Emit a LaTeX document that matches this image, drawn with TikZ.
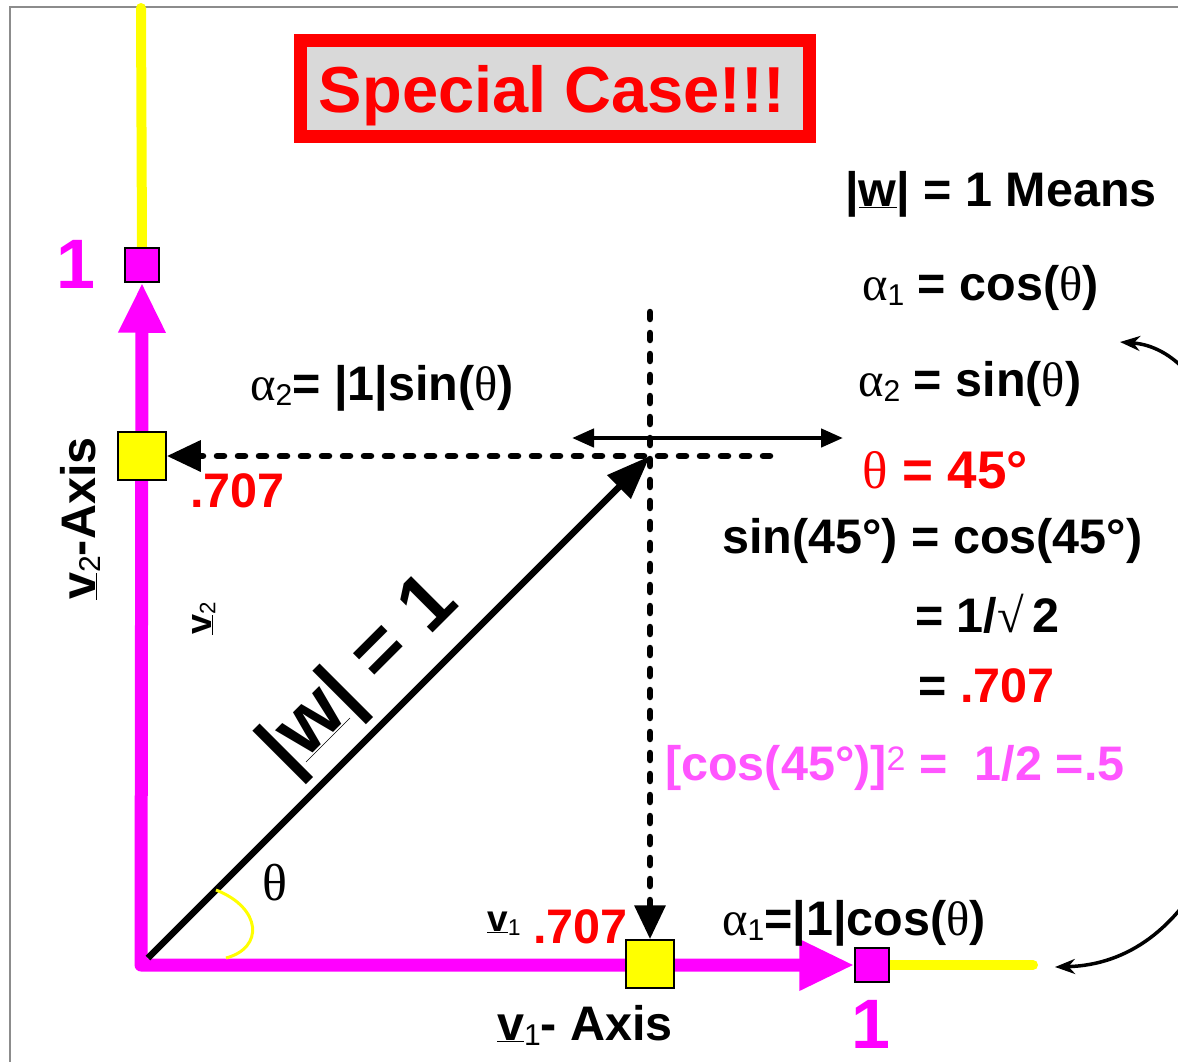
\documentclass[tikz,border=0pt]{standalone}
\usepackage{fontspec}
\setmainfont{Liberation Sans}
\newfontfamily\grk{Liberation Serif}
\usetikzlibrary{arrows.meta}
\definecolor{mag}{HTML}{FF00FF}
\definecolor{pinkt}{HTML}{FF55FF}
\definecolor{ylw}{HTML}{FFFF00}
\definecolor{boxgray}{HTML}{D9D9D9}
\definecolor{framegray}{HTML}{8C8C8C}
\newcommand{\fs}[1]{\fontsize{#1}{#1}\selectfont}
\newcommand{\sub}[1]{\raisebox{-0.12em}{\mdseries\fontsize{0.62em}{0.62em}\selectfont #1}}
\newcommand{\gal}[1]{{\grk\mdseries α}\sub{#1}}
\newcommand{\gth}{{\grk\mdseries θ}}
\newcommand{\ul}[1]{\underline{#1}}
\begin{document}
\begin{tikzpicture}[x=1pt,y=-1pt,
  t/.style={inner sep=0pt, anchor=base west, font=\bfseries\fs{48.5}},
  sqm/.style={draw=black, line width=1.5pt, fill=mag, minimum size=34pt, inner sep=0pt},
  sqy/.style={draw=black, line width=1.5pt, fill=ylw, minimum size=48pt, inner sep=0pt},
  dotline/.style={line width=6.5pt, line cap=round, dash pattern=on 7pt off 14pt},
  bigtip/.style={-{Triangle[length=34pt,width=30pt]}}
  ]
\useasboundingbox (0,0) rectangle (1178,1061);
\clip (0,0) rectangle (1178,1061);
\draw[framegray, line width=2.5pt] (10,7) rectangle (1200,1090);

% title
\node[draw=red, line width=13pt, fill=boxgray, minimum width=509pt, minimum height=96pt, inner sep=0pt] (titlebox) at (555,88.5) {};
\node[inner sep=0pt, anchor=base, font=\bfseries\fs{65}, text=red] (title) at (552,112) {Special Case!!!};

% named points
\coordinate (O) at (141,965);
\coordinate (ytop) at (141,8);
\coordinate (yright) at (1033,965);

% squares (placed first for names)
\node[sqm] (sqT) at (142,265) {};
\node[sqm] (sqR) at (872,965) {};

% yellow extensions
\draw[ylw, line width=10pt, line cap=round] (ytop) -- (sqT.north);
\draw[ylw, line width=10pt, line cap=round] (sqR.east) -- (yright);

% magenta axes
\draw[mag, line width=13pt, line join=round,
  {Triangle[length=50pt,width=44pt]}-{Triangle[length=55pt,width=48pt]}]
  (sqT.south) -- (O) -- (sqR.west);
\node[sqm] at (142,265) {};
\node[sqm] at (872,965) {};

\node[sqy] (sqL) at (142,456) {};
\node[sqy] (sqB) at (650,964) {};

% vector w
\coordinate (wO) at (148,958);
\coordinate (W) at (650,456);
\draw[line width=6.5pt, -{Triangle[length=44pt,width=32pt]}] (wO) -- (W);

% theta arc
\coordinate (arcA) at (216,890);
\coordinate (arcB) at (226,958);
\draw[ylw, line width=3pt] (arcA) .. controls (262,908) and (264,948) .. (arcB);

% dotted projections
\coordinate (vtop) at (650,312);
\coordinate (hright) at (770,456);
\draw[dotline, bigtip] (vtop) -- (sqB.north);
\draw[dotline, bigtip] (hright) -- (sqL.east);

% double arrow
\coordinate (dl) at (572,438);
\coordinate (dr) at (843,438);
\draw[line width=4.5pt, {Triangle[length=22pt,width=18pt]}-{Triangle[length=22pt,width=18pt]}] (dl) -- (dr);

% curved arrow on the right
\coordinate (ca) at (1120,342);
\coordinate (cb) at (1055,967);
\draw[line width=3.5pt, {Stealth[length=20pt,width=15pt]}-{Stealth[length=20pt,width=15pt]}]
  (ca) .. controls (1300,355) and (1320,960) .. (cb);

% texts
\node[t] (wmeans) at (845,206) {|\ul{w}| = 1 Means};
\node[t] (a1cos) at (862,300) {\gal{1} = cos(\gth)};
\node[t] (a2sin) at (858,396) {\gal{2} = sin(\gth)};
\node[t] (a2left) at (250,400) {\gal{2}= |1|sin(\gth)};
\node[t, text=red, font=\bfseries\fs{53}] (th45) at (862,488) {\gth{} = 45°};
\node[t] (sineq) at (722,553) {sin(45°) = cos(45°)};
\node[t] (isqrt) at (915,632) {= 1/{\grk\mdseries √}\,2};
\node[t] (eq707) at (918,702) {= \textcolor{red}{.707}};
\node[t, text=pinkt] (cossq) at (665,780) {[cos(45°)]\textsuperscript{\mdseries 2} =\ \ 1/2 =.5};
\node[t, text=red] (l707) at (190,507) {.707};
\node[t, text=red] (b707) at (533,943) {.707};
\node[t, font=\bfseries\fs{37}] (v1s) at (487,931) {\ul{v}\sub{1}};
\node[t] (a1bot) at (722,935) {\gal{1}=|1|cos(\gth)};
\node[t] (v1axis) at (497,1040) {\ul{v}\sub{1}- Axis};
\node[t, text=mag, font=\bfseries\fs{70}] (one1) at (56,288) {1};
\node[t, text=mag, font=\bfseries\fs{70}] (one2) at (851,1048) {1};
\node[inner sep=0pt, anchor=base west, font=\fs{52}] (thlab) at (262,900) {\gth};
\node[t, rotate=90] (v2axis) at (95,600) {\ul{v}\sub{2}-Axis};
\node[t, rotate=90, font=\bfseries\fs{36}] (v2s) at (211,635) {\ul{v}\sub{2}};
\node[inner sep=0pt, anchor=base, rotate=45, font=\bfseries\fs{80}] (wlab) at (375,691) {|\ul{w}| = 1};
\end{tikzpicture}
\end{document}
